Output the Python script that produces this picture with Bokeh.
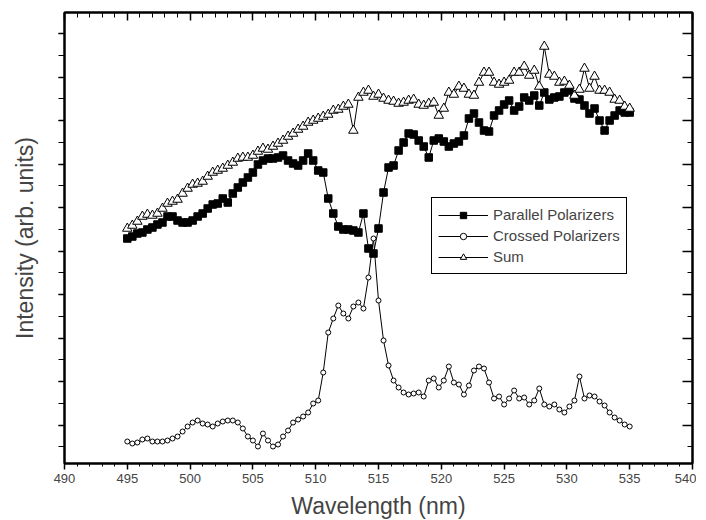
from bokeh.plotting import figure
from bokeh.models import LinearAxis, FixedTicker, Legend, LegendItem, Range1d, CustomJSTickFormatter
from bokeh.embed import file_html
from bokeh.resources import INLINE

# Wavelength grid (nm)
wavelength = [495 + 0.4 * i for i in range(101)]

# Intensity (arb. units)
parallel = [232, 234, 237, 238, 241, 243, 246, 248, 254, 254,
            250, 248, 248, 250, 254, 257, 262, 266, 267, 272,
            268, 277, 283, 288, 293, 298, 306, 310, 312, 312,
            313, 315, 310, 307, 305, 310, 317, 310, 300, 298,
            272, 257, 244, 241, 241, 240, 238, 257, 222, 217,
            242, 278, 303, 305, 320, 328, 337, 336, 330, 324,
            313, 330, 332, 329, 324, 327, 329, 335, 352, 357,
            348, 340, 339, 355, 360, 366, 370, 360, 364, 373,
            370, 375, 365, 378, 371, 373, 374, 378, 380, 372,
            371, 365, 357, 362, 350, 340, 350, 355, 360, 358, 358]

crossed = [29, 27, 28, 31, 32, 29, 29, 29, 30, 32,
           34, 39, 44, 48, 50, 47, 46, 44, 47, 49,
           50, 50, 48, 42, 34, 30, 24, 37, 30, 24,
           26, 34, 40, 48, 51, 54, 58, 67, 70, 98,
           138, 152, 165, 157, 152, 164, 168, 162, 193, 232,
           170, 130, 105, 90, 83, 78, 76, 77, 78, 74,
           90, 92, 83, 90, 104, 88, 86, 76, 85, 100,
           104, 102, 88, 72, 74, 66, 72, 80, 72, 73,
           66, 70, 82, 66, 64, 66, 61, 58, 64, 70,
           94, 72, 75, 74, 69, 65, 58, 53, 50, 46, 44]

total = [242, 245, 249, 254, 256, 255, 257, 262, 267, 269,
         271, 277, 282, 286, 287, 289, 294, 298, 300, 302,
         305, 308, 312, 313, 313, 315, 319, 322, 321, 324,
         327, 330, 334, 337, 341, 344, 348, 350, 352, 354,
         356, 360, 361, 364, 366, 340, 373, 378, 380, 374,
         376, 372, 370, 369, 367, 368, 370, 371, 366, 365,
         367, 368, 355, 362, 378, 376, 384, 382, 376, 375,
         388, 398, 398, 388, 386, 388, 390, 398, 398, 404,
         395, 400, 384, 424, 396, 394, 388, 389, 385, 375,
         381, 402, 382, 394, 380, 380, 378, 371, 370, 364, 362]

x_ticks = list(range(490, 541, 5))
x_minor = list(range(490, 541, 1))
y_major = [45.5 + 43.5 * k for k in range(10)]
y_minor = [23.75 + 21.75 * k for k in range(20)]

FONT = "Liberation Sans"

p = figure(frame_width=628, frame_height=451, output_backend="svg",
           toolbar_location=None, x_range=Range1d(490, 540), y_range=Range1d(7, 458),
           min_border_left=64, min_border_right=4, min_border_top=12, min_border_bottom=4)
p.xgrid.visible = False
p.ygrid.visible = False
p.outline_line_color = "black"
p.outline_line_width = 2
p.background_fill_color = "white"
p.border_fill_color = "white"

xt = FixedTicker(ticks=x_ticks, minor_ticks=x_minor)
yt = FixedTicker(ticks=y_major, minor_ticks=y_minor)
blank = CustomJSTickFormatter(code="return '';")

xa = p.xaxis[0]
xa.ticker = xt
xa.axis_label = "Wavelength (nm)"
xa.axis_label_text_font = FONT
xa.axis_label_text_font_size = "23px"
xa.axis_label_text_font_style = "normal"
xa.axis_label_standoff = 7
xa.major_label_text_font = FONT
xa.major_label_text_font_size = "13px"
xa.major_label_standoff = 4
xa.major_tick_out = 6
xa.major_tick_in = 0
xa.minor_tick_out = 3
xa.minor_tick_in = 0
xa.axis_line_width = 2
xa.major_tick_line_width = 1.5

ya = p.yaxis[0]
ya.ticker = yt
ya.formatter = blank
ya.axis_label = "Intensity (arb. units)"
ya.axis_label_text_font = FONT
ya.axis_label_text_font_size = "23px"
ya.axis_label_text_font_style = "normal"
ya.axis_label_standoff = 21
ya.major_label_standoff = 0
ya.major_tick_out = 6
ya.major_tick_in = 0
ya.minor_tick_out = 6
ya.minor_tick_in = 0
ya.axis_line_width = 2
ya.major_tick_line_width = 1.5

top = LinearAxis(ticker=xt, formatter=blank, major_label_standoff=0,
                 major_tick_in=8, major_tick_out=0, minor_tick_in=5, minor_tick_out=0,
                 axis_line_width=2, major_tick_line_width=1.5)
right = LinearAxis(ticker=yt, formatter=blank, major_label_standoff=0,
                   major_tick_in=10, major_tick_out=0, minor_tick_in=5, minor_tick_out=0,
                   axis_line_width=2, major_tick_line_width=1.5)
p.add_layout(top, "above")
p.add_layout(right, "right")

l1 = p.line(wavelength, parallel, line_color="black", line_width=1)
s1 = p.scatter(wavelength, parallel, marker="square", size=7.5, fill_color="black", line_color="black")
l2 = p.line(wavelength, crossed, line_color="black", line_width=1)
s2 = p.scatter(wavelength, crossed, marker="circle", size=5, fill_color="white", line_color="black", line_width=1)
l3 = p.line(wavelength, total, line_color="black", line_width=1)
s3 = p.scatter(wavelength, total, marker="triangle", size=9.5, fill_color="white", line_color="black", line_width=1)

legend = Legend(items=[LegendItem(label="Parallel Polarizers", renderers=[l1, s1]),
                       LegendItem(label="Crossed Polarizers", renderers=[l2, s2]),
                       LegendItem(label="Sum", renderers=[l3, s3])],
                location=(367, 189), orientation="vertical",
                label_text_font=FONT, label_text_font_size="15px",
                glyph_width=50, glyph_height=16, label_height=21, spacing=0, padding=6, margin=0,
                border_line_color="black", border_line_width=1.5, border_line_alpha=1.0,
                background_fill_color="white", background_fill_alpha=1.0,
                label_standoff=5)
p.add_layout(legend, "center")

open("out.html", "w").write(file_html(p, INLINE))
